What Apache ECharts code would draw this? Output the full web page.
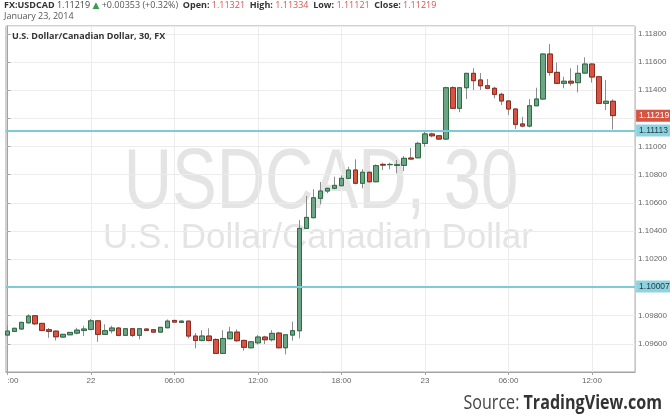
<!DOCTYPE html>
<html><head><meta charset="utf-8">
<script src="https://cdn.jsdelivr.net/npm/echarts@6/dist/echarts.min.js"></script>
<style>html,body{margin:0;padding:0;background:#fff}#c{width:670px;height:419px}</style>
</head><body><div id="c"></div>
<script>
// 30-minute bars, Jan 21 18:00 -> Jan 23 13:30 (2014)
const times = [
'21 18:00','21 18:30','21 19:00','21 19:30','21 20:00','21 20:30','21 21:00','21 21:30','21 22:00','21 22:30','21 23:00','21 23:30',
'22 00:00','22 00:30','22 01:00','22 01:30','22 02:00','22 02:30','22 03:00','22 03:30','22 04:00','22 04:30','22 05:00','22 05:30',
'22 06:00','22 06:30','22 07:00','22 07:30','22 08:00','22 08:30','22 09:00','22 09:30','22 10:00','22 10:30','22 11:00','22 11:30',
'22 12:00','22 12:30','22 13:00','22 13:30','22 14:00','22 14:30','22 15:00','22 15:30','22 16:00','22 16:30','22 17:00','22 17:30',
'22 18:00','22 18:30','22 19:00','22 19:30','22 20:00','22 20:30','22 21:00','22 21:30','22 22:00','22 22:30','22 23:00','22 23:30',
'23 00:00','23 00:30','23 01:00','23 01:30','23 02:00','23 02:30','23 03:00','23 03:30','23 04:00','23 04:30','23 05:00','23 05:30',
'23 06:00','23 06:30','23 07:00','23 07:30','23 08:00','23 08:30','23 09:00','23 09:30','23 10:00','23 10:30','23 11:00','23 11:30',
'23 12:00','23 12:30','23 13:00','23 13:30'
];
const open = [
1.09662,1.09688,1.09705,1.09749,1.09799,1.09745,1.09700,1.09690,1.09648,1.09664,1.09676,1.09695,
1.09702,1.09763,1.09667,1.09693,1.09712,1.09660,1.09707,1.09660,1.09705,1.09700,1.09683,1.09714,
1.09766,1.09752,1.09761,1.09655,1.09624,1.09655,1.09631,1.09532,1.09636,1.09683,1.09624,1.09572,
1.09607,1.09648,1.09629,1.09676,1.09572,1.09662,1.09693,1.10419,1.10495,1.10632,1.10684,1.10703,
1.10722,1.10774,1.10833,1.10739,1.10817,1.10750,1.10873,1.10871,1.10866,1.10866,1.10918,1.10920,
1.11022,1.11089,1.11076,1.11053,1.11417,1.11271,1.11417,1.11519,1.11472,1.11431,1.11413,1.11370,
1.11323,1.11266,1.11160,1.11145,1.11289,1.11337,1.11656,1.11526,1.11448,1.11463,1.11453,1.11521,
1.11585,1.11495,1.11306,1.11321
];
const close = [
1.09690,1.09710,1.09752,1.09797,1.09742,1.09695,1.09688,1.09650,1.09667,1.09681,1.09697,1.09705,
1.09763,1.09667,1.09693,1.09712,1.09660,1.09707,1.09660,1.09707,1.09695,1.09683,1.09717,1.09761,
1.09754,1.09761,1.09655,1.09624,1.09655,1.09624,1.09532,1.09638,1.09683,1.09622,1.09575,1.09614,
1.09648,1.09629,1.09674,1.09572,1.09664,1.09693,1.10419,1.10497,1.10636,1.10684,1.10703,1.10724,
1.10774,1.10833,1.10739,1.10817,1.10750,1.10864,1.10868,1.10873,1.10871,1.10916,1.10911,1.11022,
1.11089,1.11076,1.11053,1.11417,1.11271,1.11417,1.11519,1.11467,1.11431,1.11413,1.11370,1.11323,
1.11266,1.11157,1.11145,1.11289,1.11337,1.11656,1.11526,1.11448,1.11463,1.11450,1.11519,1.11585,
1.11493,1.11306,1.11321,1.11219
];
const low = [
1.09655,1.09683,1.09700,1.09745,1.09733,1.09690,1.09643,1.09624,1.09643,1.09662,1.09667,1.09655,
1.09695,1.09614,1.09662,1.09674,1.09653,1.09657,1.09648,1.09631,1.09690,1.09678,1.09681,1.09710,
1.09752,1.09747,1.09639,1.09568,1.09617,1.09617,1.09527,1.09527,1.09631,1.09614,1.09551,1.09568,
1.09595,1.09598,1.09617,1.09568,1.09525,1.09622,1.09639,1.10414,1.10490,1.10590,1.10668,1.10696,
1.10717,1.10769,1.10732,1.10703,1.10743,1.10746,1.10833,1.10838,1.10810,1.10826,1.10909,1.10916,
1.10998,1.11065,1.11046,1.11046,1.11266,1.11243,1.11337,1.11401,1.11401,1.11406,1.11342,1.11294,
1.11223,1.11124,1.11136,1.11136,1.11287,1.11332,1.11502,1.11443,1.11413,1.11431,1.11384,1.11517,
1.11453,1.11301,1.11259,1.11121
];
const high = [
1.09728,1.09714,1.09756,1.09809,1.09804,1.09747,1.09712,1.09695,1.09671,1.09683,1.09714,1.09728,
1.09776,1.09768,1.09738,1.09728,1.09717,1.09710,1.09712,1.09710,1.09710,1.09705,1.09719,1.09773,
1.09768,1.09766,1.09763,1.09676,1.09697,1.09710,1.09638,1.09697,1.09721,1.09702,1.09629,1.09619,
1.09662,1.09657,1.09697,1.09685,1.09669,1.09757,1.10478,1.10649,1.10696,1.10748,1.10707,1.10786,
1.10795,1.10856,1.10909,1.10838,1.10821,1.10873,1.10885,1.10885,1.10904,1.10932,1.10989,1.11034,
1.11105,1.11098,1.11081,1.11424,1.11427,1.11422,1.11521,1.11555,1.11521,1.11479,1.11424,1.11382,
1.11328,1.11271,1.11211,1.11337,1.11417,1.11661,1.11727,1.11595,1.11495,1.11555,1.11578,1.11633,
1.11590,1.11502,1.11472,1.11334
];
const tickIndex = [0, 12, 24, 36, 48, 60, 72, 84];
const tickLabels = [':00', '22', '06:00', '12:00', '18:00', '23', '06:00', '12:00'];
const levels = [1.11113, 1.10007];
const lastPrice = 1.11219;
const header = { symbol: 'FX:USDCAD', last: '1.11219', change: '+0.00353 (+0.32%)',
  open: '1.11321', high: '1.11334', low: '1.11121', close: '1.11219', date: 'January 23, 2014' };

const wickData = times.map((t, i) => [i, open[i], close[i], low[i], high[i]]);
const bodyData = times.map((t, i) => [i, open[i], close[i], Math.min(open[i], close[i]), Math.max(open[i], close[i])]);

const chart = echarts.init(document.getElementById('c'), null, { renderer: 'canvas' });
const lblFont = 'Liberation Sans';
chart.setOption({
  animation: false,
  backgroundColor: '#ffffff',
  grid: { left: 6, right: 34, top: 26, bottom: 47, show: true, borderColor: '#a3a3a3', borderWidth: 1, containLabel: false },
  xAxis: {
    type: 'value', min: -0.2, max: 90.2,
    axisLine: { show: true, lineStyle: { color: '#a3a3a3' } },
    axisTick: { show: true, length: 3, customValues: tickIndex, lineStyle: { color: '#a3a3a3' } },
    axisLabel: { customValues: tickIndex, fontSize: 8, fontFamily: lblFont, color: '#666', margin: 5,
      alignMinLabel: 'left',
      formatter: v => { const k = tickIndex.indexOf(Math.round(v)); return k >= 0 ? tickLabels[k] : ''; } },
    splitLine: { show: true, lineStyle: { color: '#ececec', width: 1 } }
  },
  yAxis: {
    type: 'value', position: 'right', min: 1.094, max: 1.11855, interval: 0.002,
    axisLine: { show: true, lineStyle: { color: '#a3a3a3' } },
    axisTick: { show: true, length: 3, lineStyle: { color: '#a3a3a3' } },
    axisLabel: { fontSize: 8, fontFamily: lblFont, color: '#666', margin: 3, showMinLabel: false, showMaxLabel: false,
      formatter: v => v.toFixed(5) },
    splitLine: { show: true, lineStyle: { color: '#ececec', width: 1 } }
  },
  graphic: [
    { type: 'text', left: 4, top: 1, z: 100, style: {
      text: '{b|' + header.symbol + '} {n|' + header.last + '} {g|▲} {m|' + header.change + '}  {b|Open:} {r|' + header.open +
        '}  {b|High:} {r|' + header.high + '}  {b|Low:} {r|' + header.low + '}  {b|Close:} {r|' + header.close + '}',
      font: '9px "Open Sans"',
      rich: {
        b: { fontWeight: 'bold', fill: '#333', fontSize: 9, fontFamily: 'Open Sans' },
        n: { fill: '#444', fontSize: 9, fontFamily: 'Open Sans' },
        g: { fill: '#3a9d4f', fontSize: 9, fontFamily: 'DejaVu Sans' },
        m: { fill: '#555', fontSize: 9, fontFamily: 'Open Sans' },
        r: { fill: '#d9534f', fontSize: 9, fontFamily: 'Open Sans' }
      } } },
    { type: 'text', left: 4, top: 12, z: 100, style: { text: header.date, font: '9px "Open Sans"', fill: '#555' } },
    { type: 'text', left: 12, top: 32, z: 100, style: { text: 'U.S. Dollar/Canadian Dollar, 30, FX', font: 'bold 9px "Open Sans"', fill: '#333' } },
    { type: 'text', x: 321, y: 185, scaleY: 1.27, z: -10, style: { text: 'USDCAD, 30', font: '67px "Liberation Sans"', fill: '#e4e4e4', align: 'center', verticalAlign: 'middle' } },
    { type: 'text', x: 318, y: 256, z: -10, style: { text: 'U.S. Dollar/Canadian Dollar', font: '35px "Liberation Sans"', fill: '#e4e4e4', align: 'center', verticalAlign: 'bottom' } },
    { type: 'text', x: 662, y: 403, scaleX: 0.805, z: 100, style: {
      text: '{s|Source: }{t|TradingView.com}', align: 'right', verticalAlign: 'middle',
      rich: { s: { fontSize: 20, fontFamily: 'Open Sans', fill: '#444' }, t: { fontSize: 20, fontFamily: 'Open Sans', fontWeight: 'bold', fill: '#333' } } } }
  ],
  series: [
    { type: 'candlestick', name: 'wick', data: wickData, encode: { x: 0, y: [1, 2, 3, 4] }, barWidth: 5, z: 2,
      itemStyle: { color: '#8c8c8c', color0: '#8c8c8c', borderColor: '#8c8c8c', borderColor0: '#8c8c8c', borderWidth: 1 } },
    { type: 'candlestick', name: 'body', data: bodyData, encode: { x: 0, y: [1, 2, 3, 4] }, barWidth: 5, z: 3,
      itemStyle: { color: '#6ba583', color0: '#d75442', borderColor: '#2f6b47', borderColor0: '#8e2a1f', borderWidth: 1 },
      markLine: {
        silent: true, symbol: ['none', 'none'], animation: false, precision: 5,
        data: [
          { yAxis: levels[0], lineStyle: { color: '#7dcad8', width: 2, type: 'solid' },
            label: { backgroundColor: '#8fd3e0', color: '#1d3b44' } },
          { yAxis: levels[1], lineStyle: { color: '#7dcad8', width: 2, type: 'solid' },
            label: { backgroundColor: '#8fd3e0', color: '#1d3b44' } },
          { yAxis: lastPrice, lineStyle: { color: 'rgba(0,0,0,0)', width: 0 },
            label: { backgroundColor: '#d75442', color: '#ffffff' } }
        ],
        label: { show: true, position: 'end', distance: 1, fontSize: 8.5, fontFamily: lblFont, padding: [2, 3, 1, 3],
          formatter: p => Number(p.value).toFixed(5) }
      } }
  ]
});
</script></body></html>
